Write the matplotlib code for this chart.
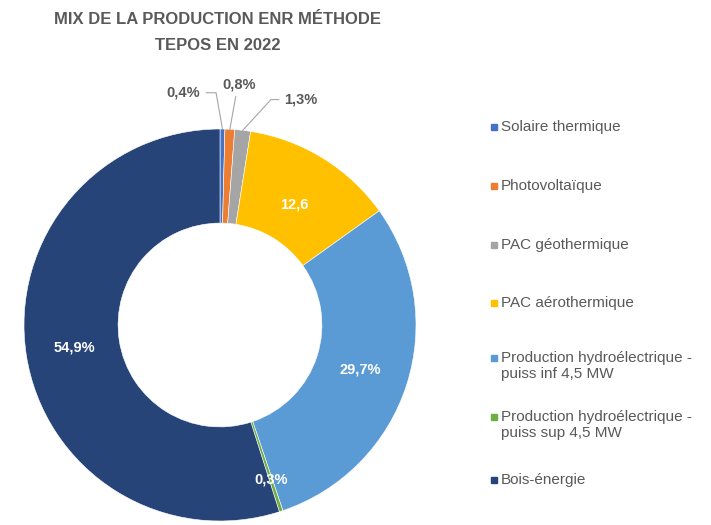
import matplotlib
matplotlib.use("Agg")
import matplotlib.pyplot as plt
import numpy as np
from matplotlib.lines import Line2D

plt.rcParams['font.family'] = ['Liberation Sans', 'DejaVu Sans']

categories = ["Solaire thermique", "Photovoltaïque", "PAC géothermique", "PAC aérothermique",
              "Production hydroélectrique -\npuiss inf 4,5 MW",
              "Production hydroélectrique -\npuiss sup 4,5 MW", "Bois-énergie"]
values = [0.4, 0.8, 1.3, 12.6, 29.7, 0.3, 54.9]
labels = ["0,4%", "0,8%", "1,3%", "12,6", "29,7%", "0,3%", "54,9%"]
colors = ["#4472C4", "#ED7D31", "#A5A5A5", "#FFC000", "#5B9BD5", "#70AD47", "#264478"]

W, H = 711, 525
fig = plt.figure(figsize=(W/100, H/100), dpi=100)
cx, cy, R = 220, 325, 196
ax = fig.add_axes([(cx-R)/W, (H-cy-R)/H, 2*R/W, 2*R/H])

wedges, _ = ax.pie(values, colors=colors, startangle=90, counterclock=False, radius=1,
                   wedgeprops=dict(width=0.48, edgecolor='white', linewidth=0.4))
ax.set_xlim(-1, 1); ax.set_ylim(-1, 1); ax.set_aspect('equal'); ax.axis('off')

total = sum(values)
cum = np.cumsum([0] + values[:-1])
mids = [90 - (c + v/2)/total*360 for c, v in zip(cum, values)]

gray = "#595959"
# inner labels
inner = {3: 0.72, 4: 0.75, 6: 0.75, 5: 0.83}
for i, r in inner.items():
    a = np.deg2rad(mids[i])
    ax.text(r*np.cos(a), r*np.sin(a), labels[i], color='white', fontsize=10.5,
            fontweight='bold', ha='center', va='center')

# outer labels with leader lines
outer = {0: (-0.19, 1.185), 1: (0.10, 1.225), 2: (0.41, 1.15)}
for i, (lx, ly) in outer.items():
    a = np.deg2rad(mids[i])
    ex, ey = np.cos(a), np.sin(a)
    ax.text(lx, ly, labels[i], color=gray, fontsize=10.5, fontweight='bold',
            ha='center', va='center')
    if i == 0:
        pts = [(lx+0.12, ly), (lx+0.17, ly), (ex, ey)]
    elif i == 1:
        pts = [(lx-0.02, ly-0.06), (ex, ey)]
    else:
        pts = [(lx-0.11, ly), (lx-0.15, ly), (ex, ey)]
    xs, ys = zip(*pts)
    ax.plot(xs, ys, color='#A6A6A6', lw=0.8, clip_on=False)

fig.text(218/W, 1-20/H, "MIX DE LA PRODUCTION ENR MÉTHODE", ha='center', va='center',
         fontsize=12, fontweight='bold', color=gray)
fig.text(218/W, 1-45/H, "TEPOS EN 2022", ha='center', va='center',
         fontsize=12, fontweight='bold', color=gray)

# legend
ly_px = [127, 186, 245, 303, 366, 425, 480]
for cat, col, y in zip(categories, colors, ly_px):
    first_y = y - (8.5 if "\n" in cat else 0)
    fig.add_artist(Line2D([494/W], [1-first_y/H], marker='s', markersize=5,
                          color=col, transform=fig.transFigure))
    fig.text(501/W, 1-y/H, cat, ha='left', va='center', fontsize=11, color=gray,
             linespacing=1.1)

fig.savefig("out.png", dpi=100)
